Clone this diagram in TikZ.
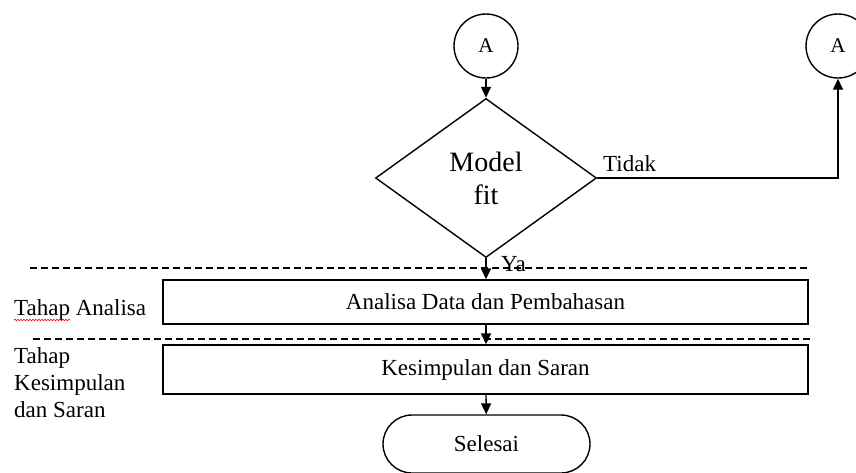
\documentclass[tikz,border=0pt]{standalone}
\usepackage{fontspec}
\setmainfont{Liberation Serif}
\usetikzlibrary{shapes.geometric,arrows.meta,decorations.pathmorphing}
\begin{document}
\begin{tikzpicture}[x=1pt,y=-1pt,
  every node/.style={font=\fontsize{23}{27}\selectfont},
  shp/.style={draw, line width=1.4pt},
  conn/.style={line width=1.4pt, -{Triangle[width=10pt,length=11pt]}},
  sep/.style={dashed, dash pattern=on 7pt off 4pt, line width=1.2pt},
  lbl/.style={anchor=west, align=left, inner sep=0pt}]
\useasboundingbox (0,0) rectangle (856,472);
% connectors (circles)
\node[shp, circle, minimum size=64pt, inner sep=0pt, font=\fontsize{21}{24}\selectfont] (a1) at (486,46) {A};
\node[shp, circle, minimum size=64pt, inner sep=0pt, font=\fontsize{21}{24}\selectfont] (a2) at (838,46) {A};
% decision
\node[shp, diamond, minimum width=221pt, minimum height=159pt, inner sep=0pt, align=center,
      font=\fontsize{28}{33}\selectfont] (dec) at (486,178) {Model\\fit};
% process boxes
\node[shp, rectangle, minimum width=645pt, minimum height=44pt] (b1) at (485.5,302) {Analisa Data dan Pembahasan};
\node[shp, rectangle, minimum width=645pt, minimum height=49pt] (b2) at (485.5,369.5) {Kesimpulan dan Saran};
% terminal
\node[shp, rectangle, rounded corners=29pt, minimum width=207pt, minimum height=58pt] (end) at (486.5,444) {Selesai};
% separators
\coordinate (s1l) at (30,268); \coordinate (s1r) at (810,268);
\coordinate (s2l) at (33,339); \coordinate (s2r) at (810,339);
\draw[sep] (s1l) -- (s1r);
\draw[sep] (s2l) -- (s2r);
% connectors
\draw[conn] (a1) -- (dec.north);
\draw[conn] (dec.south) -- (b1.north -| dec.south);
\draw[conn] (b1.south -| dec.south) -- (b2.north -| dec.south);
\draw[conn] (b2.south -| dec.south) -- (end);
\draw[conn] (dec.east) -| (a2.south);
% labels
\node[lbl, anchor=base west] (tidak) at (603,171) {Tidak};
\node[lbl, anchor=base west] (ya) at (501,271) {Ya};
\node[lbl, anchor=base west] (tA) at (14,315) {Tahap Analisa};
\node[lbl, anchor=north west] (tK) at (14,347) {Tahap\\Kesimpulan\\dan Saran};
% spell-check squiggle
\coordinate (sq1) at (14,320); \coordinate (sq2) at (70,320);
\draw[red, line width=0.6pt, decorate, decoration={snake, segment length=3pt, amplitude=0.8pt}] (sq1) -- (sq2);
\end{tikzpicture}
\end{document}
